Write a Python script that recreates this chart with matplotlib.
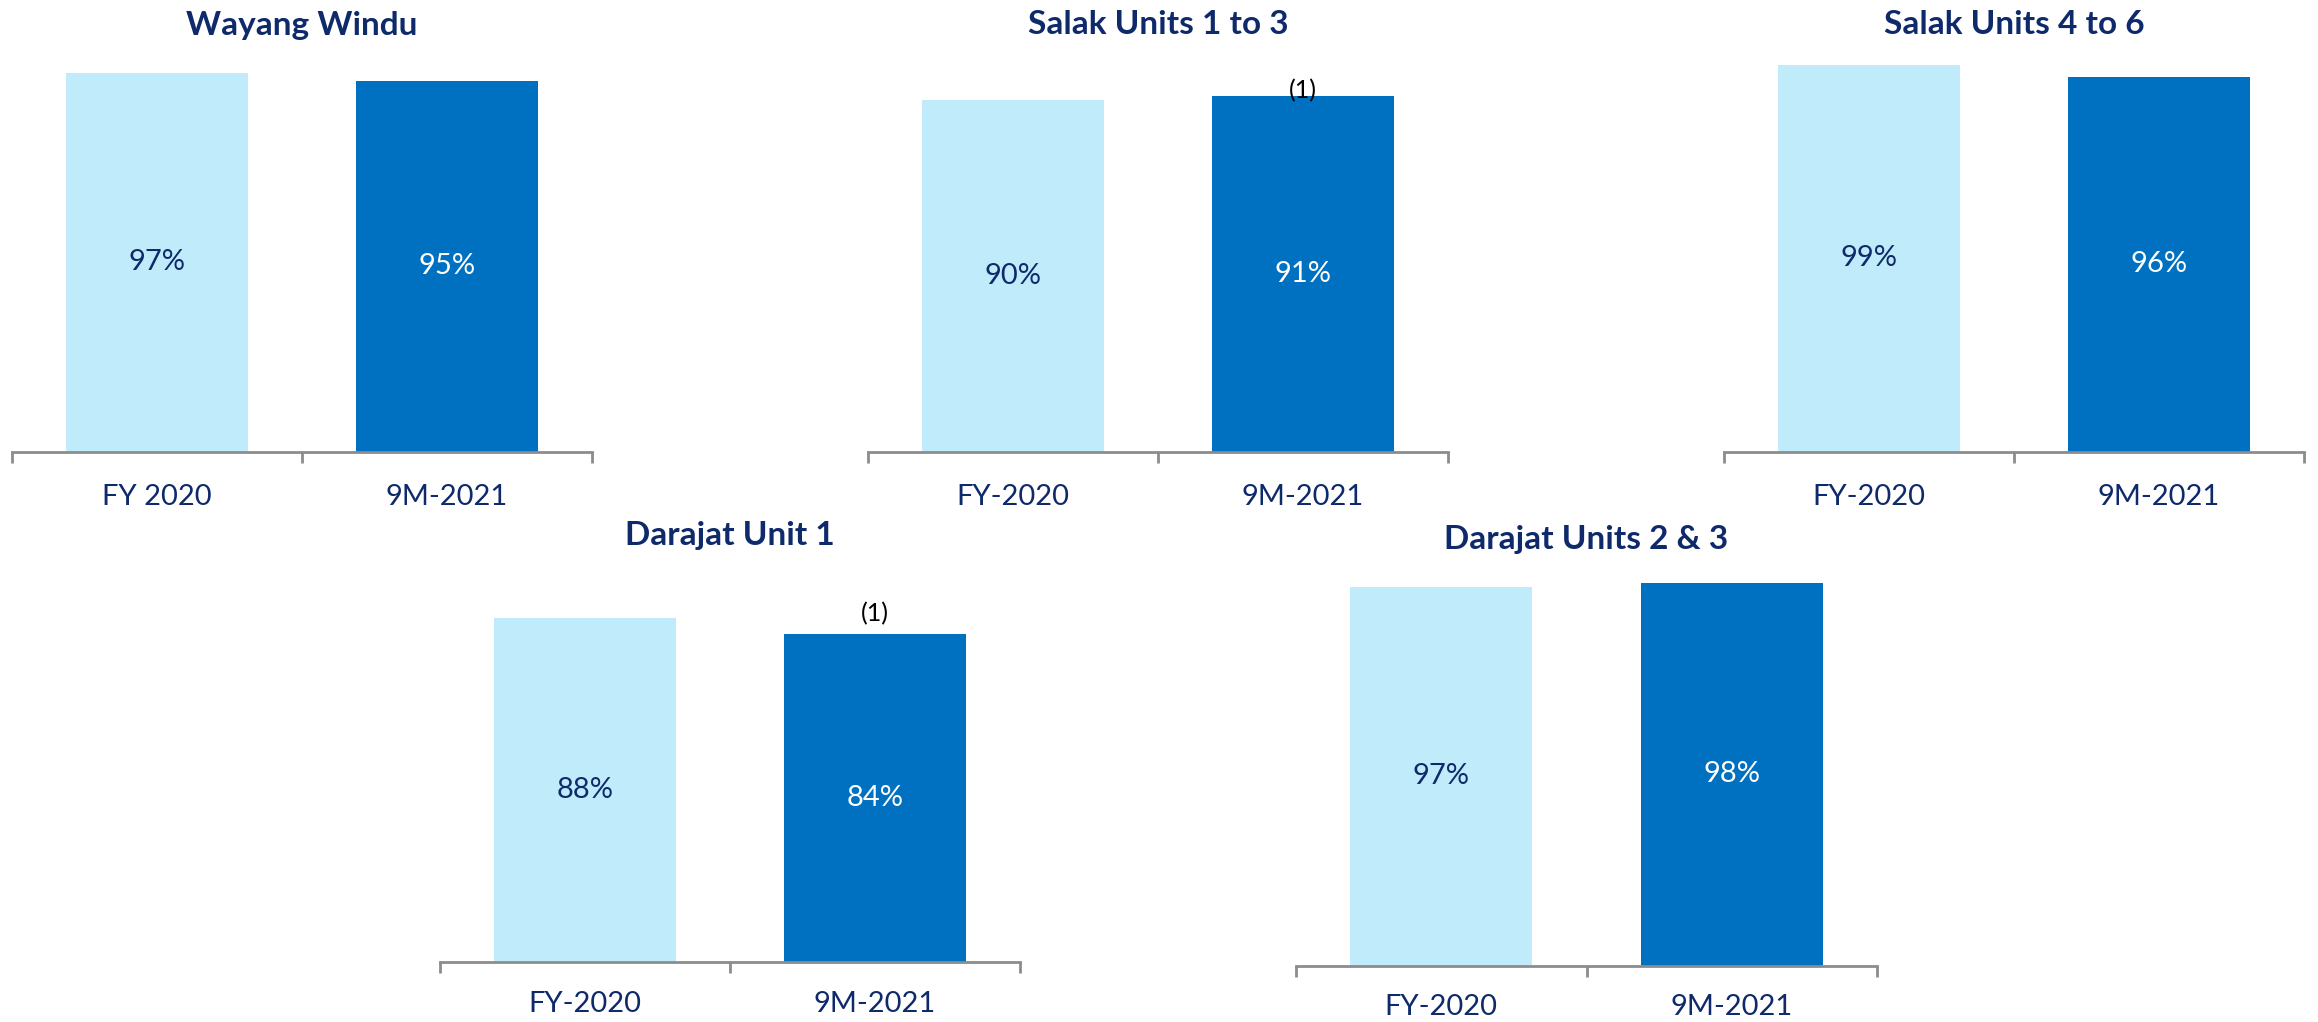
import matplotlib
matplotlib.use("Agg")
import matplotlib.pyplot as plt

# ---- data ----
titles = ["Wayang Windu", "Salak Units 1 to 3", "Salak Units 4 to 6",
          "Darajat Unit 1", "Darajat Units 2 & 3"]
cat_labels = [["FY 2020", "9M-2021"],
              ["FY-2020", "9M-2021"],
              ["FY-2020", "9M-2021"],
              ["FY-2020", "9M-2021"],
              ["FY-2020", "9M-2021"]]
fy2020 = [97, 90, 99, 88, 97]
m9_2021 = [95, 91, 96, 84, 98]
notes = ["", "(1)", "", "(1)", ""]

# ---- style ----
W, H = 2318, 1022
LIGHT = "#C0EBFB"
DARK = "#0070C0"
NAVY = "#0E2A6B"
GRAY = "#8C8C8C"
FONT = ["Lato", "DejaVu Sans"]
plt.rcParams["font.family"] = FONT

# axes rectangles in pixels: (left, right, bottom_y_from_top)
rects = [(12, 592, 452), (868, 1448, 452), (1724, 2304, 452),
         (440, 1020, 962), (1296, 1877, 966)]
PX_PER_UNIT = 3.91
title_y = [25, 25, 25, 535, 540]
note_off = [0, 4, 0, 14, 0]
pads = [23, 23, 23, 21, 20]

fig = plt.figure(figsize=(W / 100, H / 100), dpi=100)
for i in range(5):
    l, r, b = rects[i]
    hpx = 100 * PX_PER_UNIT
    ax = fig.add_axes([l / W, (H - b) / H, (r - l) / W, hpx / H])
    vals = [fy2020[i], m9_2021[i]]
    bars = ax.bar([0, 1], vals, width=0.628, color=[LIGHT, DARK], zorder=2)
    ax.set_xlim(-0.5, 1.5)
    ax.set_ylim(0, 100)
    for sp in ["top", "right", "left"]:
        ax.spines[sp].set_visible(False)
    ax.spines["bottom"].set_color(GRAY)
    ax.spines["bottom"].set_linewidth(2)
    ax.set_yticks([])
    ax.set_xticks([0, 1])
    ax.set_xticklabels(cat_labels[i], fontsize=21, color=NAVY)
    ax.tick_params(axis="x", which="major", length=0, pad=pads[i])
    ax.set_xticks([-0.5, 0.5, 1.5], minor=True)
    ax.tick_params(axis="x", which="minor", length=8, width=2, color=GRAY,
                   direction="out")
    for j, (rect, v) in enumerate(zip(bars, vals)):
        ax.text(rect.get_x() + rect.get_width() / 2, v / 2, f"{v}%",
                ha="center", va="center", fontsize=21,
                color=NAVY if j == 0 else "white")
    if notes[i]:
        ax.annotate(notes[i], (1, vals[1]), xytext=(0, note_off[i]),
                    textcoords="offset points", ha="center", va="center",
                    fontsize=18, color="black")
    cx = (l + r) / 2
    fig.text(cx / W, 1 - title_y[i] / H, titles[i], ha="center", va="center",
             fontsize=24, fontweight="bold", color=NAVY)

fig.savefig("out.png", dpi=100, facecolor="white")
